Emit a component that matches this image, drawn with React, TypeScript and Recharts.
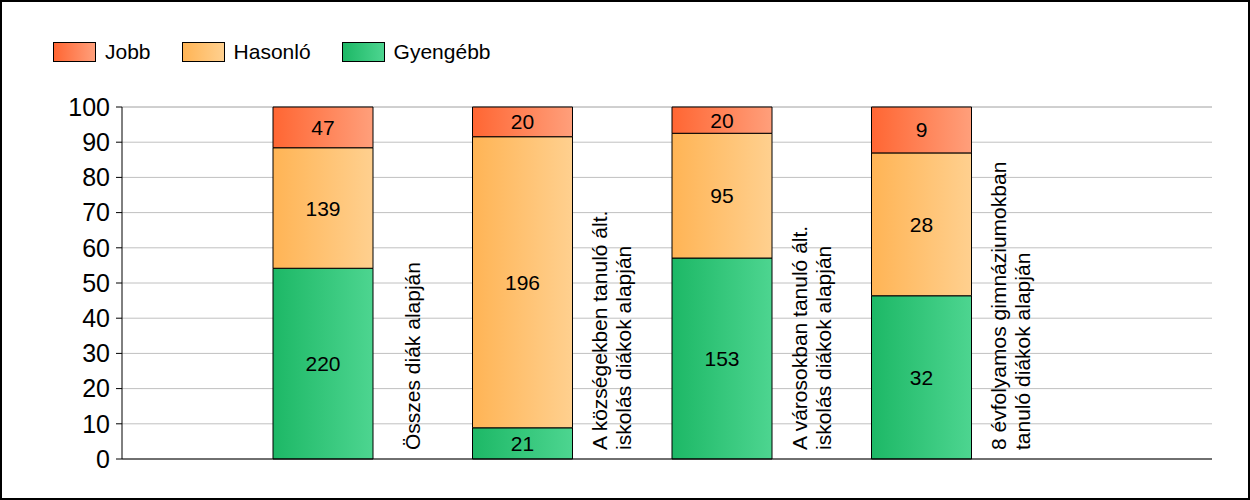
import { BarChart, Bar, XAxis, YAxis, CartesianGrid, Legend, LabelList } from 'recharts';

const categories = [
  ['Összes diák alapján'],
  ['A községekben tanuló ált.', 'iskolás diákok alapján'],
  ['A városokban tanuló ált.', 'iskolás diákok alapján'],
  ['8 évfolyamos gimnáziumokban', 'tanuló diákok alapján'],
];
const jobb = [47, 20, 20, 9];
const hasonlo = [139, 196, 95, 28];
const gyengebb = [220, 21, 153, 32];
const yTicks = [0, 10, 20, 30, 40, 50, 60, 70, 80, 90, 100];

const series = [
  { key: 'gyengebb', name: 'Gyengébb', values: gyengebb, from: '#1db866', to: '#4dd590' },
  { key: 'hasonlo', name: 'Hasonló', values: hasonlo, from: '#ffb455', to: '#ffd08f' },
  { key: 'jobb', name: 'Jobb', values: jobb, from: '#ff6633', to: '#ff9f7b' },
];

const FONT = 'Arial, "Liberation Sans", sans-serif';

// percentages for the 100% stack
const data = categories.map((c, i) => {
  const total = jobb[i] + hasonlo[i] + gyengebb[i];
  return {
    name: c.join(' '),
    gyengebb: (gyengebb[i] / total) * 100,
    hasonlo: (hasonlo[i] / total) * 100,
    jobb: (jobb[i] / total) * 100,
  };
});

const CategoryTick = (props: any) => {
  const { x, index } = props;
  const lines = categories[index] || [];
  const n = lines.length;
  return (
    <g>
      {lines.map((line, i) => {
        const tx = x + 97 + (i - (n - 1) / 2) * 24;
        return (
          <text
            key={i}
            x={tx}
            y={450}
            transform={`rotate(-90, ${tx}, 450)`}
            textAnchor="start"
            fontSize={21}
            fontFamily={FONT}
            fill="#000"
          >
            {line}
          </text>
        );
      })}
    </g>
  );
};

const legendOrder = ['jobb', 'hasonlo', 'gyengebb'];

const LegendContent = () => (
  <div style={{ display: 'flex', alignItems: 'center', height: 30, fontFamily: FONT, fontSize: 21 }}>
    {legendOrder.map((k) => {
      const s = series.find((x) => x.key === k)!;
      return (
        <div key={k} style={{ display: 'flex', alignItems: 'center', marginRight: 31 }}>
          <div
            style={{
              width: 41,
              height: 18,
              border: '1px solid #000',
              background: `linear-gradient(to right, ${s.from}, ${s.to})`,
              marginRight: 9,
            }}
          />
          <span>{s.name}</span>
        </div>
      );
    })}
  </div>
);

export default function App() {
  return (
    <div style={{ position: 'absolute', left: 0, top: 0, width: 1250, height: 500, background: '#fff' }}>
      <BarChart
        width={1250}
        height={500}
        data={data}
        margin={{ top: 77, right: 38, bottom: 0, left: 0 }}
        barCategoryGap={0}
      >
        <defs>
          {series.map((s) => (
            <linearGradient key={s.key} id={`grad-${s.key}`} x1="0" y1="0" x2="1" y2="0">
              <stop offset="0%" stopColor={s.from} />
              <stop offset="100%" stopColor={s.to} />
            </linearGradient>
          ))}
        </defs>
        <CartesianGrid vertical={false} stroke="#c0c0c0" />
        <XAxis
          dataKey="name"
          height={41}
          axisLine={{ stroke: '#000' }}
          tickLine={false}
          interval={0}
          padding={{ left: 101, right: 191 }}
          tick={<CategoryTick />}
        />
        <YAxis
          domain={[0, 100]}
          ticks={yTicks}
          width={122}
          axisLine={{ stroke: '#000' }}
          tickLine={{ stroke: '#000' }}
          tickSize={6}
          tickMargin={6}
          tick={{ fill: '#000', fontSize: 25, fontFamily: FONT }}
          interval={0}
        />
        <Legend
          verticalAlign="top"
          align="left"
          content={<LegendContent />}
          wrapperStyle={{ top: 37, left: 53, width: 'auto' }}
        />
        {series.map((s) => (
          <Bar
            key={s.key}
            dataKey={s.key}
            name={s.name}
            stackId="a"
            barSize={100}
            fill={`url(#grad-${s.key})`}
            stroke="#000"
            strokeWidth={1}
            isAnimationActive={false}
          >
            <LabelList
              dataKey={s.key}
              content={(p: any) => {
                const { x, y, width, height, index } = p;
                return (
                  <text
                    x={x + width / 2}
                    y={y + height / 2}
                    textAnchor="middle"
                    dominantBaseline="central"
                    fontSize={21}
                    fontFamily={FONT}
                    fill="#000"
                  >
                    {s.values[index]}
                  </text>
                );
              }}
            />
          </Bar>
        ))}
      </BarChart>
      <div
        style={{
          position: 'absolute',
          left: 0,
          top: 0,
          width: 1250,
          height: 500,
          boxSizing: 'border-box',
          border: '2px solid #000',
          pointerEvents: 'none',
        }}
      />
    </div>
  );
}
